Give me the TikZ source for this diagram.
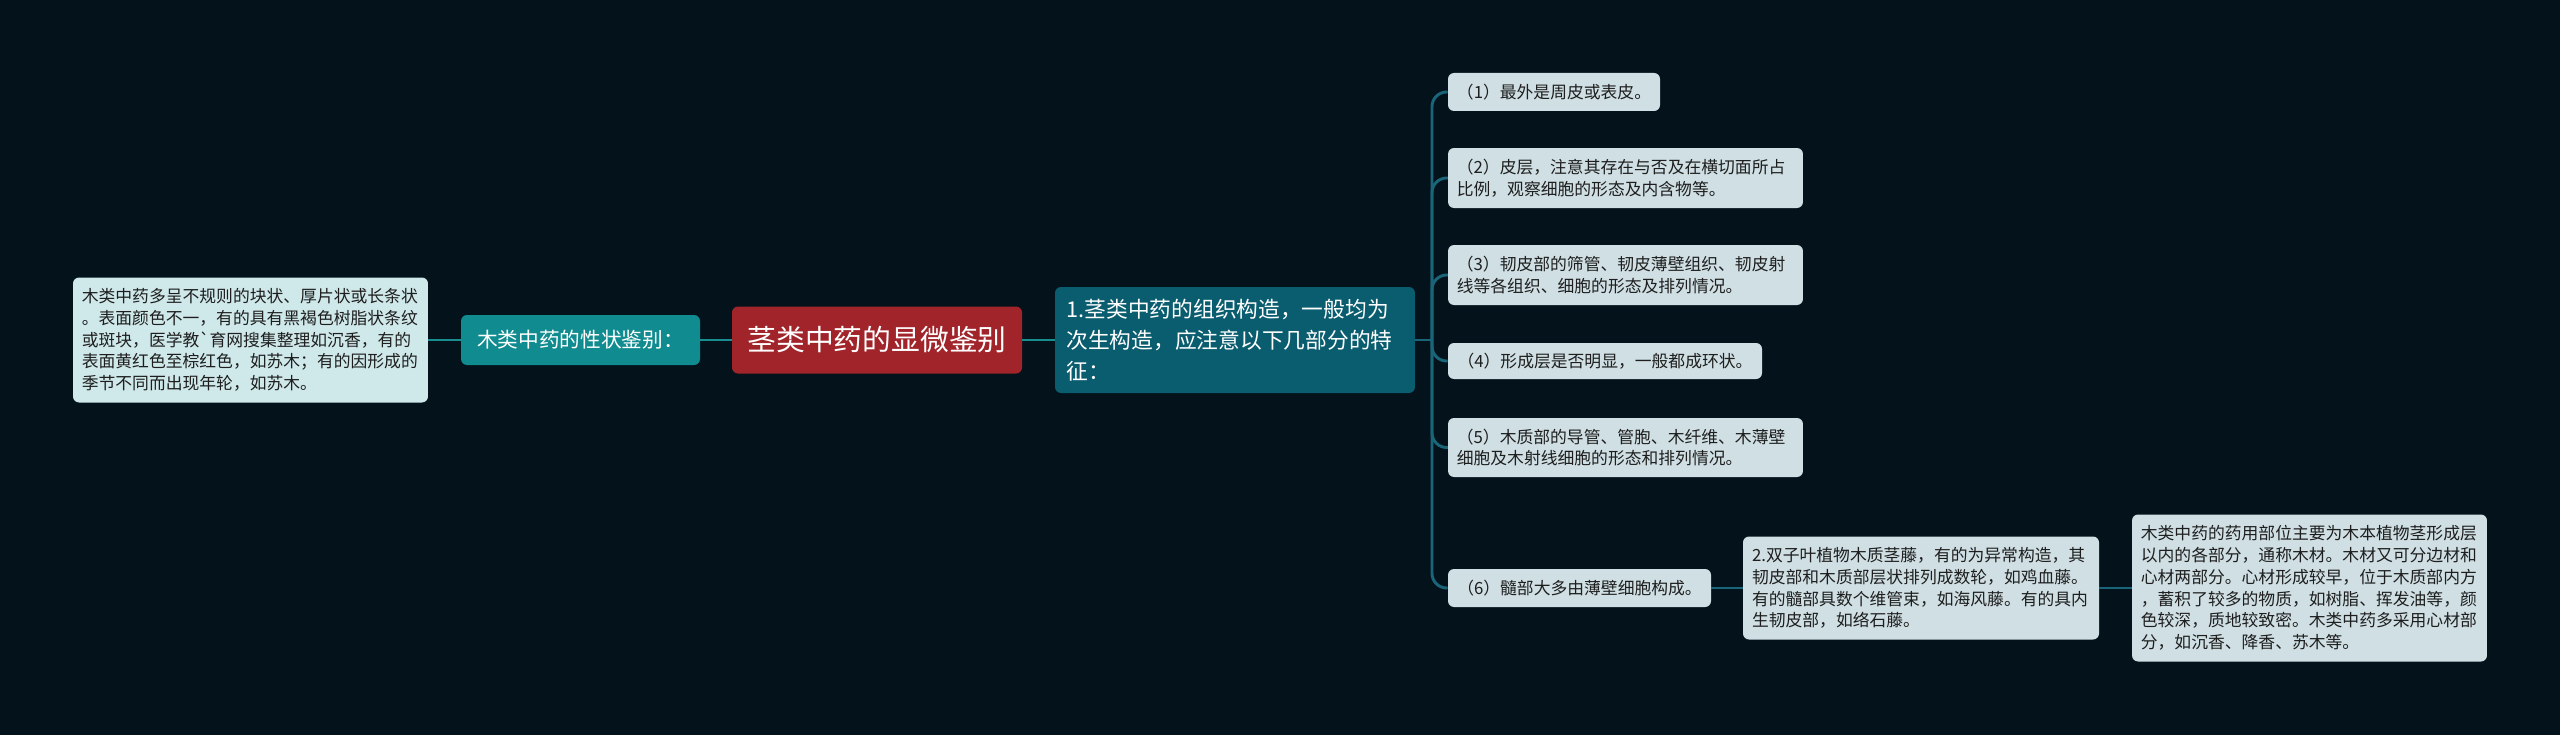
\documentclass[tikz,border=0pt]{standalone}
\usepackage{fontspec}
\setmainfont{Noto Sans CJK SC}
\definecolor{bgc}{HTML}{03121B}
\definecolor{lleafc}{HTML}{CFE8EA}
\definecolor{rleafc}{HTML}{CFDFE4}
\definecolor{tealc}{HTML}{108B8F}
\definecolor{rootc}{HTML}{A0242A}
\definecolor{bluec}{HTML}{0A5D6F}
\definecolor{lconnc}{HTML}{1A8D91}
\definecolor{rconnc}{HTML}{1A6679}
\definecolor{leaftext}{HTML}{1E1E1E}
\tikzset{
  box/.style={rectangle, rounded corners=4.5pt, inner sep=0pt, align=left},
  leafbox/.style={box, fill=rleafc, text=leaftext, font=\fontsize{12.6}{16.3}\selectfont},
  lleafbox/.style={leafbox, fill=lleafc},
  lconn/.style={draw=lconnc, line width=2.2pt},
  rconn/.style={draw=rconnc, line width=2.2pt, rounded corners=11pt},
}
\newcommand{\bq}{{\XeTeXglyph\XeTeXcharglyph"60}}
\begin{document}
\begin{tikzpicture}[x=0.75pt,y=-0.75pt]
\fill[bgc] (0,0) rectangle (2560,735);
\useasboundingbox (0,0) rectangle (2560,735);

% root and first level
\node[box, fill=rootc, text=white, font=\fontsize{21.6}{26}\selectfont, align=center,
      minimum width=217.5pt, minimum height=50.25pt] (root) at (877,340) {茎类中药的显微鉴别};
\node[box, fill=tealc, text=white, font=\fontsize{15.5}{19}\selectfont, align=center,
      minimum width=179.25pt, minimum height=37.5pt] (teal) at (580.5,340) {木类中药的性状鉴别：};
\node[box, fill=bluec, text=white, font=\fontsize{16.3}{23.3}\selectfont,
      text width=252.75pt, minimum height=79.5pt, inner xsep=8.6pt] (blue) at (1235,340)
      {1.茎类中药的组织构造，一般均为\\次生构造，应注意以下几部分的特\\征：};

% left leaf
\node[lleafbox, text width=253pt, minimum height=93.75pt, inner xsep=6.6pt] (lleaf) at (250.5,340)
  {木类中药多呈不规则的块状、厚片状或长条状\\。表面颜色不一，有的具有黑褐色树脂状条纹\\或斑块，医学教\bq 育网搜集整理如沉香，有的\\表面黄红色至棕红色，如苏木；有的因形成的\\季节不同而出现年轮，如苏木。};

% right leaves
\node[leafbox, align=center, minimum width=159pt, minimum height=28.5pt] (l1) at (1554,92)
  {（1）最外是周皮或表皮。};
\node[leafbox, text width=253pt, minimum height=45pt, inner xsep=6.6pt] (l2) at (1625.5,178)
  {（2）皮层，注意其存在与否及在横切面所占\\比例，观察细胞的形态及内含物等。};
\node[leafbox, text width=253pt, minimum height=45pt, inner xsep=6.6pt] (l3) at (1625.5,275)
  {（3）韧皮部的筛管、韧皮薄壁组织、韧皮射\\线等各组织、细胞的形态及排列情况。};
\node[leafbox, align=center, minimum width=235.5pt, minimum height=27pt] (l4) at (1605,361)
  {（4）形成层是否明显，一般都成环状。};
\node[leafbox, text width=253pt, minimum height=44.25pt, inner xsep=6.6pt] (l5) at (1625.5,447.5)
  {（5）木质部的导管、管胞、木纤维、木薄壁\\细胞及木射线细胞的形态和排列情况。};
\node[leafbox, align=center, minimum width=197.25pt, minimum height=28.5pt] (l6) at (1579.5,588)
  {（6）髓部大多由薄壁细胞构成。};
\node[leafbox, text width=253.5pt, minimum height=77.25pt, inner xsep=6.75pt] (two) at (1921,588)
  {2.双子叶植物木质茎藤，有的为异常构造，其\\韧皮部和木质部层状排列成数轮，如鸡血藤。\\有的髓部具数个维管束，如海风藤。有的具内\\生韧皮部，如络石藤。};
\node[leafbox, text width=253pt, minimum height=110.25pt, inner xsep=6.6pt] (rleaf) at (2309.5,588)
  {木类中药的药用部位主要为木本植物茎形成层\\以内的各部分，通称木材。木材又可分边材和\\心材两部分。心材形成较早，位于木质部内方\\，蓄积了较多的物质，如树脂、挥发油等，颜\\色较深，质地较致密。木类中药多采用心材部\\分，如沉香、降香、苏木等。};

% connectors
\draw[lconn] (lleaf.east) -- (teal.west);
\draw[lconn] (teal.east) -- (root.west);
\draw[lconn] (root.east) -- (blue.west);
\coordinate (bx) at (1432,340);
\draw[rconn] (blue.east) -- (bx);
\foreach \n in {l1,l2,l3,l4,l5,l6} {
  \draw[rconn] (bx) |- (\n.west);
}
\draw[rconn] (l6.east) -- (two.west);
\draw[rconn] (two.east) -- (rleaf.west);
\end{tikzpicture}
\end{document}
